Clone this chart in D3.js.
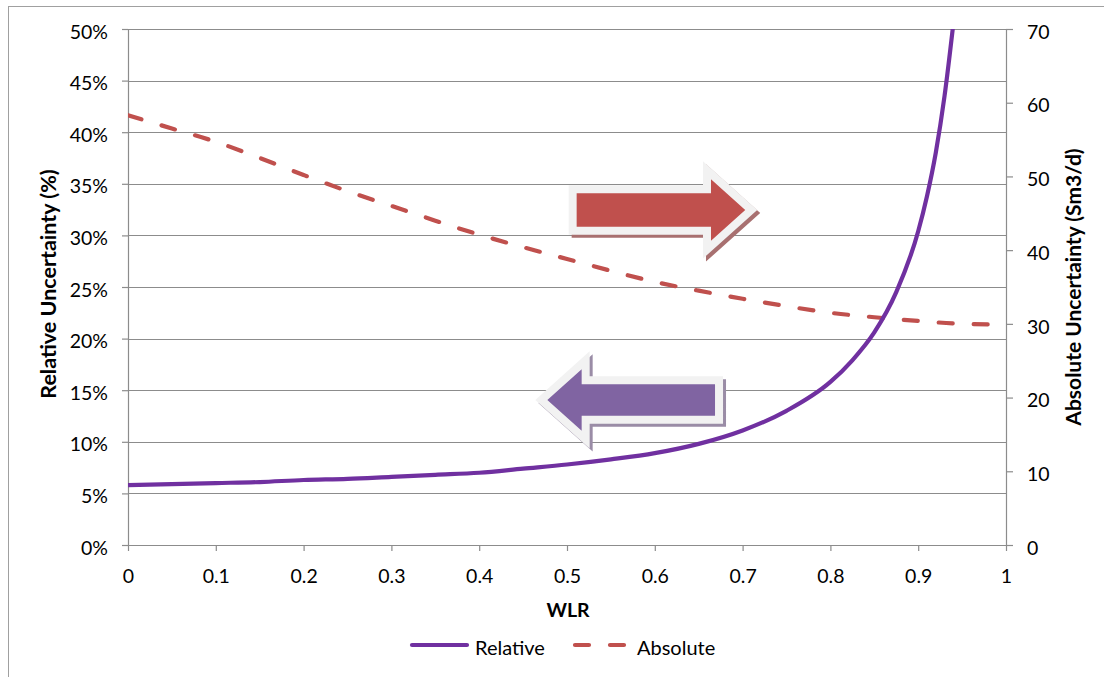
<!DOCTYPE html>
<html><head><meta charset="utf-8">
<script src="https://cdn.jsdelivr.net/npm/d3@7"></script>
<style>
body{margin:0;background:#fff}
text{font-family:Lato, "Open Sans", sans-serif;fill:#000}
</style>
</head><body>
<svg id="chart" width="1104" height="677"></svg>
<script>
// ---- data ----
const wlrRel   = [0, 0.05, 0.1, 0.15, 0.2, 0.25, 0.3, 0.35, 0.4, 0.45, 0.5, 0.55, 0.6, 0.65, 0.7, 0.75, 0.8, 0.825, 0.85, 0.875, 0.9, 0.91, 0.92, 0.93, 0.94];
const relative = [5.8, 5.9, 6.0, 6.1, 6.3, 6.4, 6.6, 6.8, 7.0, 7.4, 7.8, 8.3, 8.9, 9.8, 11.1, 13.0, 15.8, 17.9, 20.6, 24.5, 30.4, 33.8, 38.0, 43.5, 50.5];
const wlrAbs   = [0, 0.05, 0.1, 0.15, 0.2, 0.25, 0.3, 0.35, 0.4, 0.45, 0.5, 0.55, 0.6, 0.65, 0.7, 0.75, 0.8, 0.85, 0.9, 0.95, 1.0];
const absolute = [58.3, 56.5, 54.7, 52.5, 50.2, 48.0, 46.0, 44.0, 42.1, 40.4, 38.8, 37.2, 35.7, 34.5, 33.4, 32.4, 31.5, 30.9, 30.4, 30.0, 29.9];
const xTicks     = [0, 0.1, 0.2, 0.3, 0.4, 0.5, 0.6, 0.7, 0.8, 0.9, 1];
const leftTicks  = [0, 5, 10, 15, 20, 25, 30, 35, 40, 45, 50];
const rightTicks = [0, 10, 20, 30, 40, 50, 60, 70];
const seriesNames = ["Relative", "Absolute"];
const xTitle = "WLR", leftTitle = "Relative Uncertainty (%)", rightTitle = "Absolute Uncertainty (Sm3/d)";
// annotation arrows in data units (WLR, relative %)
const arrowRightX = [0.511, 0.664, 0.664, 0.703, 0.664, 0.664, 0.511];
const arrowRightY = [34.08, 34.08, 35.44, 32.46, 29.49, 30.85, 30.85];
const arrowLeftX  = [0.6686, 0.5167, 0.5167, 0.4776, 0.5167, 0.5167, 0.6686];
const arrowLeftY  = [15.57, 15.57, 17.03, 14.05, 11.08, 12.53, 12.53];

// ---- layout ----
const L = 128, R = 1006, T = 29, B = 545;
const purple = "#7030A0", red = "#C0504D", grid = "#8c8c8c";
const svg = d3.select("#chart");
const x = d3.scaleLinear().domain([0, 1]).range([L, R]);
const yL = d3.scaleLinear().domain([0, 50]).range([B, T]);
const yR = d3.scaleLinear().domain([0, 70]).range([B, T]);

// chart area border
svg.append("rect").attr("x", 8.5).attr("y", 6.5).attr("width", 1300).attr("height", 900)
  .attr("fill", "none").attr("stroke", "#a0a0a0").attr("stroke-width", 1);

// gridlines
svg.append("g").selectAll("line").data(leftTicks.filter(d => d > 0)).join("line")
  .attr("x1", L).attr("x2", R).attr("y1", d => Math.round(yL(d)) + 0.5).attr("y2", d => Math.round(yL(d)) + 0.5)
  .attr("stroke", grid).attr("stroke-width", 1.2);

// axes
const fs = 19.5;
const gx = svg.append("g").attr("transform", `translate(0,${B})`)
  .call(d3.axisBottom(x).tickValues(xTicks).tickFormat(d => String(+d.toFixed(1))).tickSize(6).tickSizeOuter(0).tickPadding(18));
const gl = svg.append("g").attr("transform", `translate(${L},0)`)
  .call(d3.axisLeft(yL).tickValues(leftTicks).tickFormat(d => d + "%").tickSize(6).tickSizeOuter(0).tickPadding(14));
const gr = svg.append("g").attr("transform", `translate(${R},0)`)
  .call(d3.axisRight(yR).tickValues(rightTicks).tickSize(7).tickSizeOuter(0).tickPadding(14));
[gx, gl, gr].forEach(g => {
  g.selectAll("path.domain").attr("stroke", grid).attr("stroke-width", 1.2);
  g.selectAll(".tick line").attr("stroke", grid).attr("stroke-width", 1.2);
  g.selectAll("text").attr("font-family", "Lato, sans-serif").attr("font-size", fs).attr("fill", "#000");
});
gx.selectAll("text").attr("dy", "0.71em");
gl.selectAll("text").attr("dy", "0.47em");
gr.selectAll("text").attr("dy", "0.47em");
// extend x-axis line to left tick
gx.select("path.domain").attr("d", `M${L - 6},0.5H${R}`);

// clip
svg.append("clipPath").attr("id", "plotclip").append("rect")
  .attr("x", L).attr("y", T).attr("width", R - L).attr("height", B - T);

// arrows (shadow, outline, fill)
function arrow(xs, ys, fill, shadow) {
  const pts = xs.map((d, i) => [x(d), yL(ys[i])]);
  const line = d3.line().curve(d3.curveLinearClosed);
  svg.append("path").attr("d", line(pts)).attr("transform", "translate(3,3)")
    .attr("fill", shadow).attr("stroke", shadow).attr("stroke-width", 16).attr("stroke-linejoin", "miter");
  svg.append("path").attr("d", line(pts))
    .attr("fill", "#f2f2f2").attr("stroke", "#f2f2f2").attr("stroke-width", 16).attr("stroke-linejoin", "miter");
  svg.append("path").attr("d", line(pts)).attr("fill", fill);
}
arrow(arrowRightX, arrowRightY, red, "#a87070");
arrow(arrowLeftX, arrowLeftY, "#8064A2", "#9a8ca6");

// series
const plot = svg.append("g").attr("clip-path", "url(#plotclip)");
plot.append("path")
  .attr("d", d3.line().curve(d3.curveMonotoneX).x((d, i) => x(wlrAbs[i])).y(d => yR(d))(absolute))
  .attr("fill", "none").attr("stroke", red).attr("stroke-width", 4.2)
  .attr("stroke-dasharray", "14,21").attr("stroke-linecap", "round");
plot.append("path")
  .attr("d", d3.line().curve(d3.curveMonotoneX).x((d, i) => x(wlrRel[i])).y(d => yL(d))(relative))
  .attr("fill", "none").attr("stroke", purple).attr("stroke-width", 4.2);

// titles
svg.append("text").attr("x", 568).attr("y", 617).attr("text-anchor", "middle")
  .attr("font-size", 19.5).attr("font-weight", "bold").text(xTitle);
svg.append("text").attr("transform", "translate(56,284) rotate(-90)").attr("text-anchor", "middle")
  .attr("font-size", 21.5).attr("font-weight", "bold").text(leftTitle);
svg.append("text").attr("transform", "translate(1081,287) rotate(-90)").attr("text-anchor", "middle")
  .attr("font-size", 21).attr("font-weight", "bold").text(rightTitle);

// legend
const lg = svg.append("g");
lg.append("line").attr("x1", 412).attr("x2", 467).attr("y1", 645).attr("y2", 645)
  .attr("stroke", purple).attr("stroke-width", 4.2).attr("stroke-linecap", "round");
lg.append("text").attr("x", 475).attr("y", 655).attr("font-size", 20).text(seriesNames[0]);
lg.append("line").attr("x1", 575).attr("x2", 624).attr("y1", 645).attr("y2", 645)
  .attr("stroke", red).attr("stroke-width", 4.2).attr("stroke-linecap", "round").attr("stroke-dasharray", "14,21");
lg.append("text").attr("x", 637).attr("y", 655).attr("font-size", 20).text(seriesNames[1]);
</script>
</body></html>
